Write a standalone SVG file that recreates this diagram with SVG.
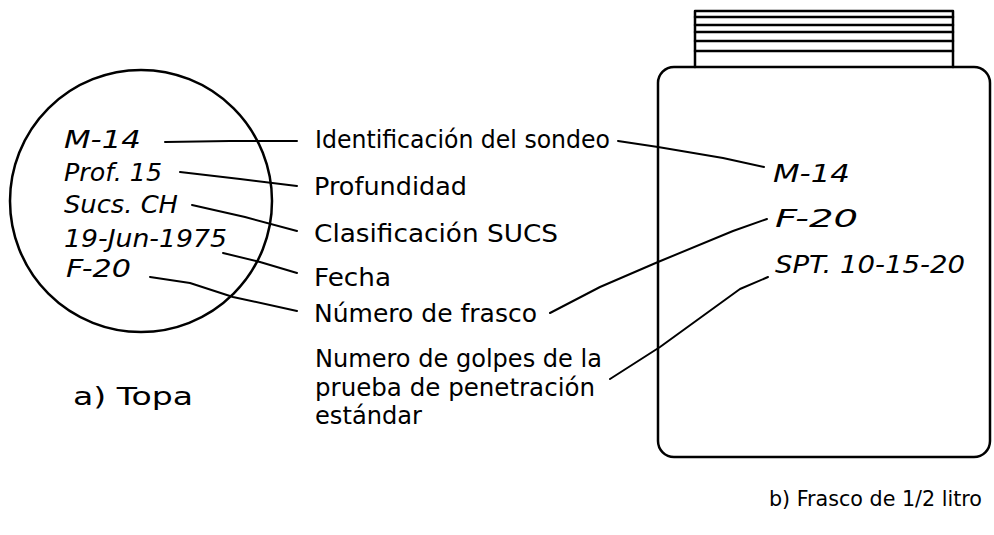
<svg xmlns="http://www.w3.org/2000/svg" width="994" height="535" viewBox="0 0 994 535">
<style>
.t{font-family:"DejaVu Sans","Liberation Sans",sans-serif;font-size:25px;fill:#000}
.i{font-family:"DejaVu Sans","Liberation Sans",sans-serif;font-size:25px;font-style:italic;fill:#000}
.s{fill:none;stroke:#000;stroke-width:2.5;stroke-linejoin:round;stroke-linecap:round}
.c{fill:none;stroke:#000;stroke-width:2;stroke-linejoin:round;stroke-linecap:round}
</style>
<rect width="994" height="535" fill="#fff"/>
<g id="tapa">
<circle class="s" cx="141" cy="201" r="131"/>
<text class="i" x="64" y="148" textLength="77" lengthAdjust="spacingAndGlyphs">M-14</text>
<text class="i" x="64" y="181" textLength="98" lengthAdjust="spacingAndGlyphs">Prof. 15</text>
<text class="i" x="64" y="213" textLength="114" lengthAdjust="spacingAndGlyphs">Sucs. CH</text>
<text class="i" x="64" y="247" textLength="163" lengthAdjust="spacingAndGlyphs">19-Jun-1975</text>
<text class="i" x="66" y="277" textLength="65" lengthAdjust="spacingAndGlyphs">F-20</text>
<text class="t" x="73" y="405" textLength="120" lengthAdjust="spacingAndGlyphs">a) Topa</text>
</g>
<g id="labels">
<text class="t" x="315" y="148" textLength="295" lengthAdjust="spacingAndGlyphs">Identificación del sondeo</text>
<text class="t" x="314" y="195" textLength="153" lengthAdjust="spacingAndGlyphs">Profundidad</text>
<text class="t" x="314" y="242" textLength="244" lengthAdjust="spacingAndGlyphs">Clasificación SUCS</text>
<text class="t" x="314" y="286" textLength="77" lengthAdjust="spacingAndGlyphs">Fecha</text>
<text class="t" x="314" y="322" textLength="223" lengthAdjust="spacingAndGlyphs">Número de frasco</text>
<text class="t" x="315" y="367" textLength="287" lengthAdjust="spacingAndGlyphs">Numero de golpes de la</text>
<text class="t" x="315" y="396" textLength="280" lengthAdjust="spacingAndGlyphs">prueba de penetración</text>
<text class="t" x="315" y="424" textLength="107" lengthAdjust="spacingAndGlyphs">estándar</text>
</g>
<g id="frasco">
<path class="s" d="M695 67 V11 H953 V67"/>
<path class="s" d="M695 17 H953 M695 25 H953 M695 32 H953 M695 41 H953 M695 51 H953"/>
<rect class="s" x="658" y="67" width="332" height="390" rx="16"/>
<text class="i" x="773" y="182" textLength="77" lengthAdjust="spacingAndGlyphs">M-14</text>
<text class="i" x="775" y="227" textLength="83" lengthAdjust="spacingAndGlyphs">F-20</text>
<text class="i" x="775" y="273" textLength="190" lengthAdjust="spacingAndGlyphs">SPT. 10-15-20</text>
<text class="t" x="769" y="506" style="font-size:21px" textLength="213" lengthAdjust="spacingAndGlyphs">b) Frasco de 1/2 litro</text>
</g>
<g id="connectors">
<path class="c" d="M165 142 L230 141 L297 141"/>
<path class="c" d="M180 172 L240 179 L297 186"/>
<path class="c" d="M192 205 L245 217 L297 231"/>
<path class="c" d="M223 253 L260 262 L297 273"/>
<path class="c" d="M150 277 L190 283 L233 297 L297 311"/>
<path class="c" d="M618 141 L658 147 L723 158 L764 167"/>
<path class="c" d="M550 313 L600 287 L658 262 L733 231 L767 219"/>
<path class="c" d="M610 379 L660 347 L740 289 L768 277"/>
</g>
</svg>
